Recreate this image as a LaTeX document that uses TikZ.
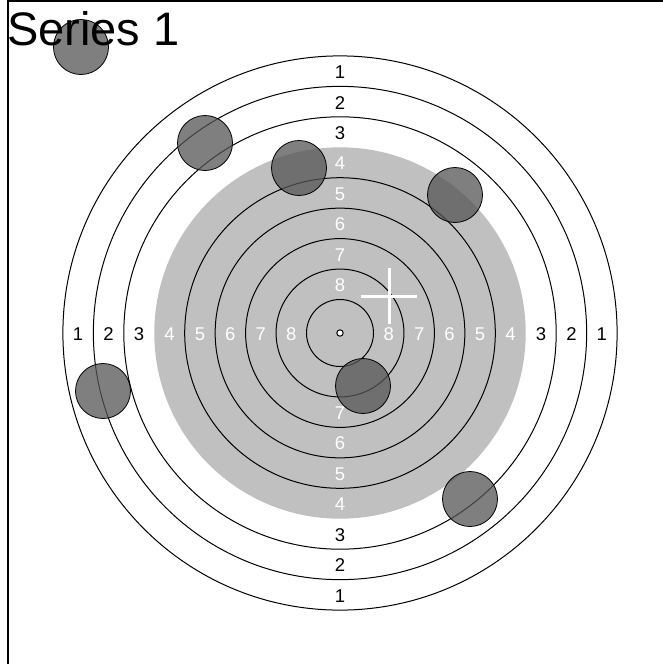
\documentclass[tikz,border=0pt]{standalone}
\usepackage{fontspec}
\setmainfont{Liberation Sans}
\definecolor{disc}{RGB}{192,192,192}
\definecolor{holec}{RGB}{85,85,85}
\begin{document}
\begin{tikzpicture}[x=1pt,y=-1pt,
  ring/.style={draw=black,line width=1pt},
  lbl/.style={font=\fontsize{18.5}{18.5}\selectfont,inner sep=0pt},
  hole/.style={circle,draw=black,line width=0.8pt,fill=holec,fill opacity=0.75,minimum size=55pt,inner sep=0pt},
  cross/.style={draw=white,line width=3pt}
]
\useasboundingbox (0,0) rectangle (663,664);
\fill[white] (0,0) rectangle (663,664);
\coordinate (tl) at (8,1);
\coordinate (bl) at (8,664);
\coordinate (tr) at (663,1);
\draw[line width=1.5pt] (bl) -- (tl) -- (tr);
\coordinate (c) at (340,333);
\fill[disc] (c) circle[radius=185.7];
\foreach \r in {22.75,20.25,17.75,12.75,10.25,7.75,5.25,2.75}
  \draw[ring] (c) circle[radius=\r*12.18];
\draw[ring,fill=white] (c) circle[radius=3.2];
\foreach \k/\r/\col in {1/21.5/black,2/19/black,3/16.5/black,4/14/white,5/11.5/white,6/9/white,7/6.5/white,8/4/white}{
  \node[lbl,text=\col] (lL\k) at (340-\r*12.18,334) {\k};
  \node[lbl,text=\col] (lR\k) at (340+\r*12.18,334) {\k};
  \node[lbl,text=\col] (lT\k) at (340,334-\r*12.18) {\k};
}
\foreach \k/\r/\col in {1/21.5/black,2/19/black,3/16.5/black,4/14/white,5/11.5/white,6/9/white,7/6.5/white}{
  \node[lbl,text=\col] (lB\k) at (340,334+\r*12.18) {\k};
}
\node[hole] (h1) at (81,47) {};
\node[hole] (h2) at (205,143) {};
\node[hole] (h3) at (299,168) {};
\node[hole] (h4) at (455,195) {};
\node[hole] (h5) at (103,391) {};
\node[hole] (h6) at (363,386) {};
\node[hole] (h7) at (470,499) {};
\coordinate (x) at (389,296);
\draw[cross] (x) ++(-28,0) -- ++(56,0);
\draw[cross] (x) ++(0,-28) -- ++(0,56);
\node[anchor=base west,font=\fontsize{47}{47}\selectfont,inner sep=0pt] (title) at (7,45) {Series 1};
\end{tikzpicture}
\end{document}
